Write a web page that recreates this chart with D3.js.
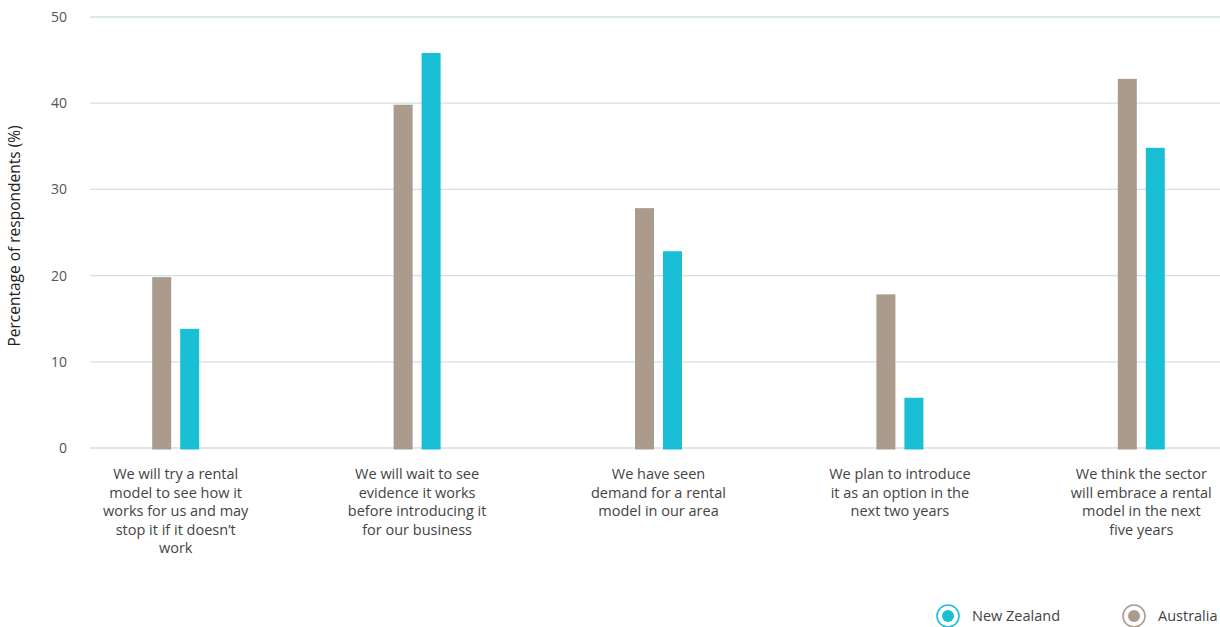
<!DOCTYPE html>
<html>
<head>
<meta charset="utf-8">
<script src="https://cdn.jsdelivr.net/npm/d3@7"></script>
<style>
  body { margin: 0; background: #fff; }
  text { font-family: 'Open Sans', 'Noto Sans', sans-serif; }
</style>
</head>
<body>
<svg width="1220" height="627"></svg>
<script>
const categories = ['cat1', 'cat2', 'cat3', 'cat4', 'cat5']
const categoryLines = [
  ['We will try a rental', 'model to see how it', 'works for us and may', 'stop it if it doesn\u2019t', 'work'],
  ['We will wait to see', 'evidence it works', 'before introducing it', 'for our business'],
  ['We have seen', 'demand for a rental', 'model in our area'],
  ['We plan to introduce', 'it as an option in the', 'next two years'],
  ['We think the sector', 'will embrace a rental', 'model in the next', 'five years']
]
const australia = [20, 40, 28, 18, 43]
const newZealand = [14, 46, 23, 6, 35]
const yTicks = [0, 10, 20, 30, 40, 50]

const colors = { aus: '#ab9b8d', nz: '#1bbfd5' }

const svg = d3.select('svg')

const y = d3.scaleLinear().domain([0, 50]).range([448, 17])
const x = d3.scaleBand().domain(categories).range([55, 1262])

const barWidth = 19
const barGap = 9

// gridlines
svg.append('g')
  .selectAll('line')
  .data(yTicks)
  .join('line')
  .attr('x1', 90)
  .attr('x2', 1220)
  .attr('y1', d => y(d))
  .attr('y2', d => y(d))
  .attr('stroke', '#cfe0e8')
  .attr('stroke-width', 1.3)

// y tick labels
svg.append('g')
  .selectAll('text')
  .data(yTicks)
  .join('text')
  .attr('x', 67)
  .attr('y', d => y(d))
  .attr('dy', '0.35em')
  .attr('text-anchor', 'end')
  .attr('font-size', 14)
  .attr('fill', '#555')
  .text(d => d)

svg.append('text')
  .attr('transform', 'translate(20, 236) rotate(-90)')
  .attr('text-anchor', 'middle')
  .attr('font-size', 15.5)
  .attr('fill', '#222')
  .text('Percentage of respondents (%)')

// bars
const groups = svg.append('g')
  .selectAll('g')
  .data(categories)
  .join('g')
  .attr('transform', d => `translate(${x(d) + x.bandwidth() / 2}, 0)`)

groups.append('rect')
  .attr('x', -barGap / 2 - barWidth)
  .attr('width', barWidth)
  .attr('y', (d, i) => y(australia[i]) + 1.5)
  .attr('height', (d, i) => y(0) - y(australia[i]))
  .attr('fill', colors.aus)

groups.append('rect')
  .attr('x', barGap / 2)
  .attr('width', barWidth)
  .attr('y', (d, i) => y(newZealand[i]) + 1.5)
  .attr('height', (d, i) => y(0) - y(newZealand[i]))
  .attr('fill', colors.nz)

// category labels
groups.append('text')
  .attr('text-anchor', 'middle')
  .attr('font-size', 14.5)
  .attr('fill', '#444')
  .selectAll('tspan')
  .data((d, i) => categoryLines[i])
  .join('tspan')
  .attr('x', 0)
  .attr('y', (d, i) => 479 + i * 18.6)
  .text(d => d)

// legend
const legendItems = [
  { label: 'New Zealand', color: colors.nz, cx: 948 },
  { label: 'Australia', color: colors.aus, cx: 1134 }
]
const legend = svg.append('g')
  .selectAll('g')
  .data(legendItems)
  .join('g')
  .attr('transform', d => `translate(${d.cx}, 616)`)

legend.append('circle')
  .attr('r', 11)
  .attr('fill', '#fff')
  .attr('stroke', d => d.color)
  .attr('stroke-width', 1.6)

legend.append('circle')
  .attr('r', 6)
  .attr('fill', d => d.color)

legend.append('text')
  .attr('x', 24)
  .attr('dy', '0.35em')
  .attr('font-size', 14.5)
  .attr('fill', '#444')
  .text(d => d.label)
</script>
</body>
</html>
